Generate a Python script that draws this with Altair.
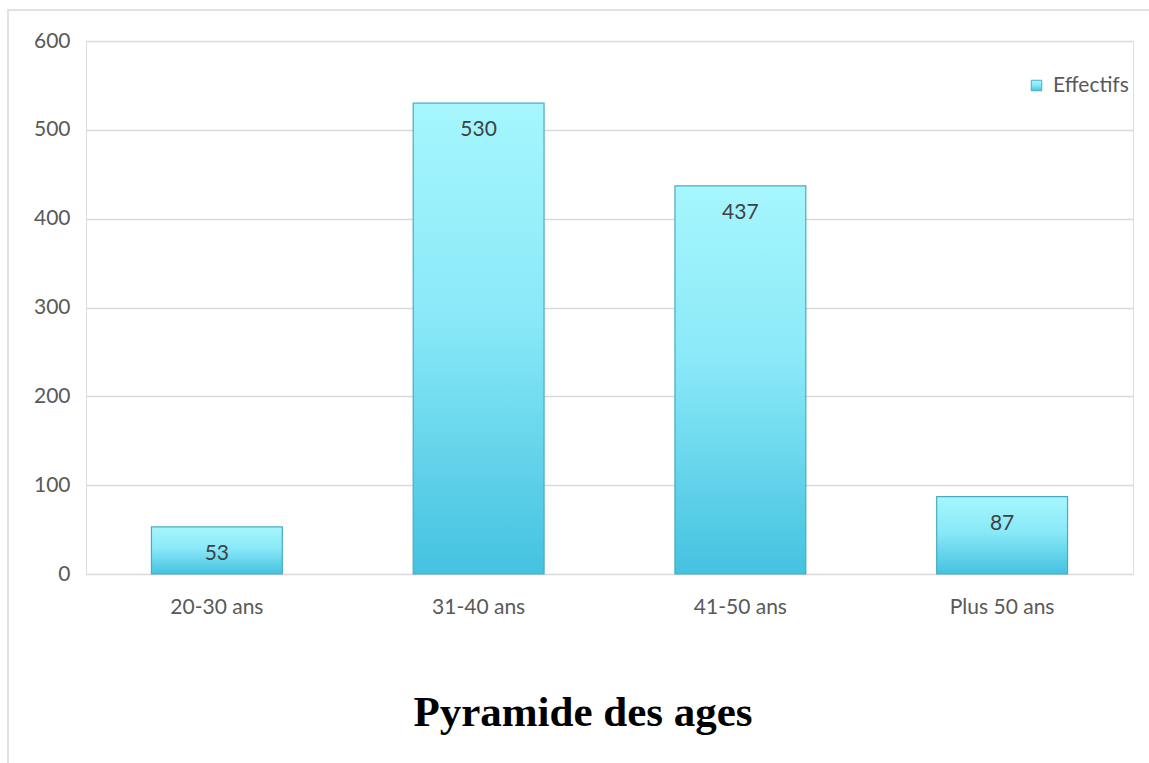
import altair as alt
import pandas as pd

# Age brackets and head counts
categories = ["20-30 ans", "31-40 ans", "41-50 ans", "Plus 50 ans"]
effectifs = [53, 530, 437, 87]
series_name = "Effectifs"
y_ticks = [0, 100, 200, 300, 400, 500, 600]
chart_title = "Pyramide des ages"

df = pd.DataFrame({
    "tranche": categories,
    "effectif": effectifs,
    "serie": [series_name] * len(categories),
})

FONT = "Lato"

bar_fill = alt.Gradient(
    gradient="linear",
    x1=0, y1=0, x2=0, y2=1,
    stops=[
        alt.GradientStop(color="#a6f6fd", offset=0),
        alt.GradientStop(color="#8ae9f8", offset=0.45),
        alt.GradientStop(color="#44c2e0", offset=1),
    ],
)

x_enc = alt.X(
    "tranche:N",
    sort=categories,
    scale=alt.Scale(paddingInner=0.5, paddingOuter=0.25),
    axis=alt.Axis(
        title=None, labelAngle=0, ticks=False, domain=False, grid=False,
        labelFontSize=21, labelColor="#595959", labelFont=FONT, labelPadding=22,
    ),
)
y_enc = alt.Y(
    "effectif:Q",
    scale=alt.Scale(domain=[0, 600], nice=False),
    axis=alt.Axis(
        title=None, values=y_ticks, ticks=False, domain=False,
        gridColor="#d9d9d9", gridWidth=1.5,
        labelFontSize=21, labelColor="#595959", labelFont=FONT, labelPadding=16,
    ),
)

base = alt.Chart(df).encode(x=x_enc, y=y_enc)

bars = base.mark_bar(fill=bar_fill, strokeWidth=1.2).encode(
    stroke=alt.Stroke(
        "serie:N",
        scale=alt.Scale(range=["#4aaac4"]),
        legend=alt.Legend(
            title=None, orient="none", legendX=940, legendY=34,
            symbolType="square", symbolSize=110,
            symbolFillColor="#3fb8d8", symbolStrokeColor="#3a9fb8",
            symbolStrokeWidth=1,
            labelFontSize=21, labelColor="#595959", labelFont=FONT,
            padding=0, labelOffset=6,
        ),
    )
)

labels = base.mark_text(
    dy=27, baseline="middle", fontSize=21, font=FONT, color="#404040"
).encode(text="effectif:Q")

# Outer chart frame (runs past the right and bottom edges of the page)
frame = alt.Chart(alt.Data(values=[{}])).mark_rect(
    filled=False, stroke="#d9d9d9", strokeWidth=1.5
).encode(
    x=alt.value(-78), x2=alt.value(1200),
    y=alt.value(-31), y2=alt.value(800),
)

# Chart title written beneath the category axis
title_text = alt.Chart(alt.Data(values=[{"t": chart_title}])).mark_text(
    font="Liberation Serif", fontSize=43, fontWeight="bold", color="#000000",
    align="center", baseline="alphabetic",
).encode(x=alt.value(497), y=alt.value(685), text="t:N")

chart = alt.layer(frame, bars, labels, title_text).properties(
    width=1047,
    height=533,
    autosize=alt.AutoSizeParams(type="none"),
    padding={"left": 86, "top": 41, "right": 16, "bottom": 189},
).configure_view(stroke=None).configure(background="white")

chart.save("out.html", embed_options={"renderer": "svg", "actions": False})
